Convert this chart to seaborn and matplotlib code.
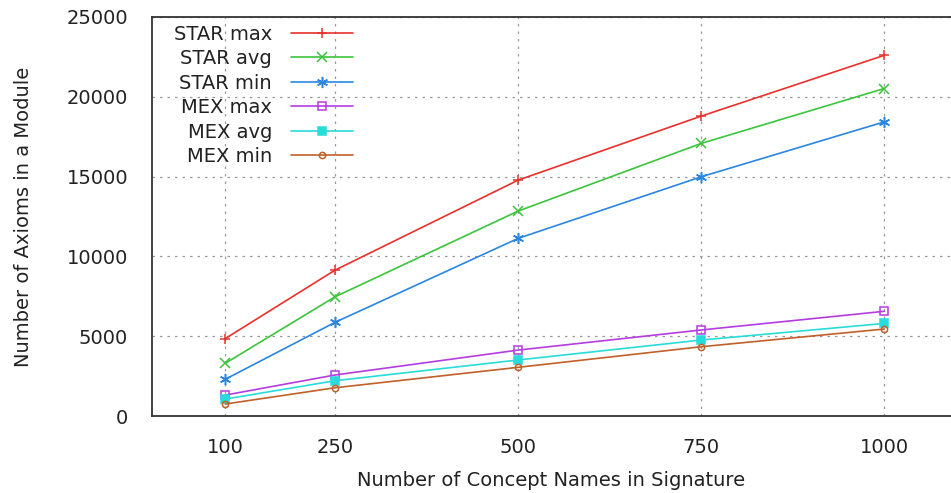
import matplotlib
matplotlib.use("Agg")
import matplotlib.pyplot as plt
import seaborn as sns
import pandas as pd

signature = [100, 250, 500, 750, 1000]
star_max = [4850, 9140, 14780, 18790, 22600]
star_avg = [3300, 7470, 12840, 17080, 20520]
star_min = [2300, 5870, 11130, 14990, 18430]
mex_max = [1310, 2570, 4130, 5390, 6560]
mex_avg = [1060, 2210, 3510, 4760, 5800]
mex_min = [750, 1770, 3050, 4340, 5450]

series_names = ["STAR max", "STAR avg", "STAR min", "MEX max", "MEX avg", "MEX min"]
series_vals = [star_max, star_avg, star_min, mex_max, mex_avg, mex_min]

rows = []
for name, vals in zip(series_names, series_vals):
    for x, y in zip(signature, vals):
        rows.append({"sig": x, "axioms": y, "series": name})
df = pd.DataFrame(rows)

sns.set_theme(style="white")
plt.rcParams['font.family'] = ['DejaVu Sans']

colors = ["#e8312c", "#3cc43c", "#2a86e0", "#b43ce0", "#28dcdc", "#c0602a"]
markers = ["+", "x", (6, 2, 0), "s", "s", "o"]
mfc = [None, None, None, "none", None, "none"]
msizes = [7.5, 7, 8, 6, 6, 4.5]

fig = plt.figure(figsize=(9.51, 4.93), dpi=100)
ax = fig.add_axes([152/951, 1 - 416/493, 1 - 152/951, (416 - 17)/493])

for i, name in enumerate(series_names):
    sub = df[df["series"] == name]
    kw = dict(marker=markers[i], markersize=msizes[i], markeredgecolor=colors[i],
              markeredgewidth=1.1)
    kw["markerfacecolor"] = mfc[i] if mfc[i] is not None else colors[i]
    sns.lineplot(data=sub, x="sig", y="axioms", ax=ax, color=colors[i],
                 linewidth=1.2, label=name, **kw)

ax.set_xlim(0, 1091)
ax.set_ylim(0, 25000)
ax.set_xticks(signature)
ax.set_yticks([0, 5000, 10000, 15000, 20000, 25000])
ax.tick_params(axis="both", labelsize=14, length=3.6, width=1, direction="out",
               color="#333333", labelcolor="#222222")
ax.tick_params(axis="y", pad=13.5)
ax.tick_params(axis="x", pad=12)
ax.grid(True, linestyle=(0, (2, 4)), color="#999999", linewidth=0.9)
for s in ["left", "bottom", "top"]:
    ax.spines[s].set_color("#333333")
    ax.spines[s].set_linewidth(1.3)
ax.spines["right"].set_visible(False)

ax.set_xlabel("Number of Concept Names in Signature", fontsize=14, color="#222222", labelpad=10)
ax.set_ylabel("Number of Axioms in a Module", fontsize=14, color="#222222", labelpad=24)

leg = ax.legend(loc="upper left", bbox_to_anchor=(0.0175, 1.0), frameon=False,
                markerfirst=False, fontsize=14, handlelength=3.15, labelspacing=0.28,
                handletextpad=1.0, borderaxespad=0.0)
for t in leg.get_texts():
    t.set_color("#222222")

fig.savefig("out.png", dpi=100)
